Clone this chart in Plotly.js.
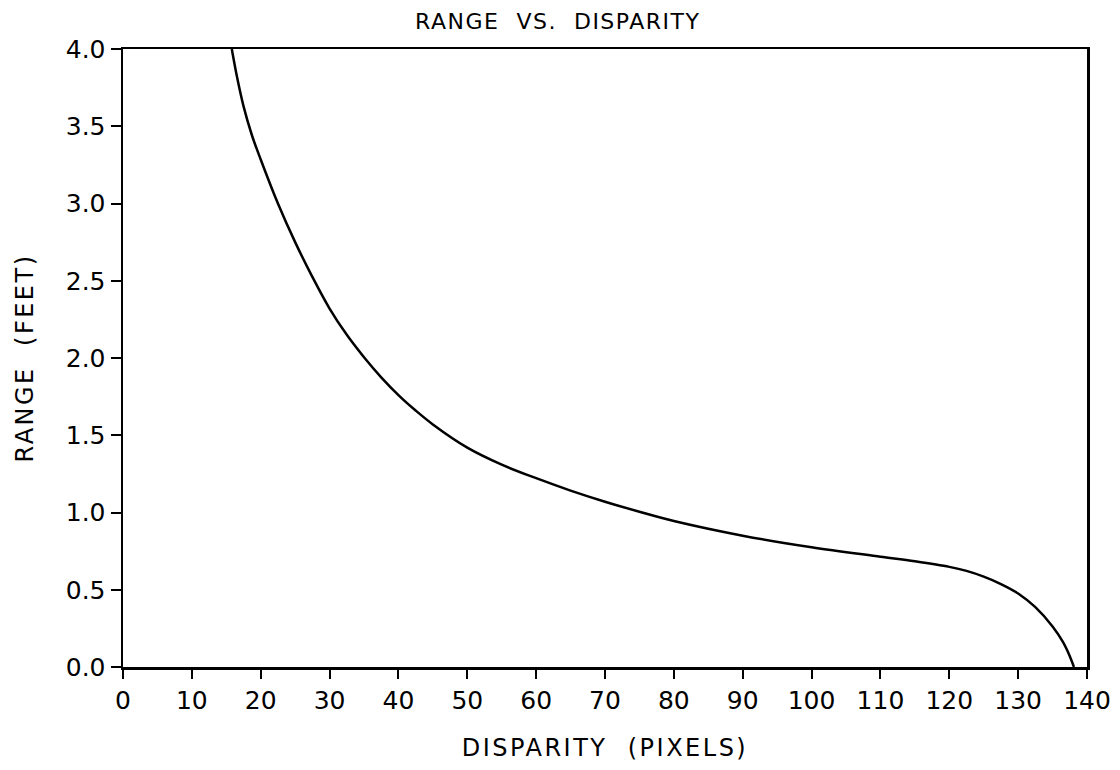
<!DOCTYPE html>
<html>
<head>
<meta charset="utf-8">
<script src="https://cdn.plot.ly/plotly-3.0.1.min.js"></script>
<style>
html,body{margin:0;padding:0;background:#fff;}
#chart{width:1120px;height:770px;}
#chart .gtitle{letter-spacing:1.5px;}
#chart .xtitle, #chart .ytitle{letter-spacing:2.5px;}
</style>
</head>
<body>
<div id="chart"></div>
<script>
const disparity = [15.8, 16.6, 17.5, 18.7, 20, 22.5, 25, 27.5, 30, 32.5, 35, 37.5, 40, 42.5, 45, 50, 55, 60, 65, 70, 75, 80, 90, 100, 110, 115, 120, 122.5, 125, 127.5, 130, 132.5, 135, 136.5, 137.5, 138.1];
const rangeFeet = [4.0, 3.81, 3.63, 3.445, 3.285, 3.00, 2.75, 2.525, 2.32, 2.15, 2.005, 1.875, 1.76, 1.66, 1.57, 1.42, 1.31, 1.222, 1.142, 1.07, 1.005, 0.945, 0.85, 0.775, 0.714, 0.684, 0.648, 0.622, 0.585, 0.537, 0.476, 0.387, 0.262, 0.162, 0.07, 0.0];
const xTicks = [0, 10, 20, 30, 40, 50, 60, 70, 80, 90, 100, 110, 120, 130, 140];
const yTicks = [0.0, 0.5, 1.0, 1.5, 2.0, 2.5, 3.0, 3.5, 4.0];

const fam = 'DejaVu Sans, Liberation Sans, sans-serif';

Plotly.newPlot('chart', [{
  x: disparity,
  y: rangeFeet,
  mode: 'lines',
  line: {color: '#000', width: 2.5, shape: 'spline', smoothing: 1},
  hoverinfo: 'skip',
  showlegend: false
}], {
  width: 1120, height: 770,
  margin: {l: 123, r: 33, t: 49, b: 103},
  paper_bgcolor: '#fff', plot_bgcolor: '#fff',
  font: {family: fam, color: '#000'},
  title: {text: 'RANGE  VS.  DISPARITY', font: {family: fam, size: 22, color: '#000'}, x: 0.498, xref: 'container', y: 0.972, yref: 'container', yanchor: 'middle'},
  xaxis: {
    range: [0, 140], tickvals: xTicks, ticktext: xTicks.map(String),
    showgrid: false, zeroline: false,
    showline: true, linecolor: '#000', linewidth: 2.5, mirror: true,
    ticks: 'outside', ticklen: 9, tickwidth: 2, tickcolor: '#000',
    tickfont: {family: fam, size: 25, color: '#000'},
    title: {text: 'DISPARITY  (PIXELS)', font: {family: fam, size: 24, color: '#000'}, standoff: 26}
  },
  yaxis: {
    range: [0, 4.0], tickvals: yTicks, ticktext: yTicks.map(v => v.toFixed(1)),
    showgrid: false, zeroline: false,
    showline: true, linecolor: '#000', linewidth: 2.5, mirror: true,
    ticks: 'outside', ticklen: 10, tickwidth: 2, tickcolor: '#000',
    tickfont: {family: fam, size: 25, color: '#000'},
    title: {text: 'RANGE  (FEET)', font: {family: fam, size: 24, color: '#000'}, standoff: 26}
  }
}, {staticPlot: true});
</script>
</body>
</html>
